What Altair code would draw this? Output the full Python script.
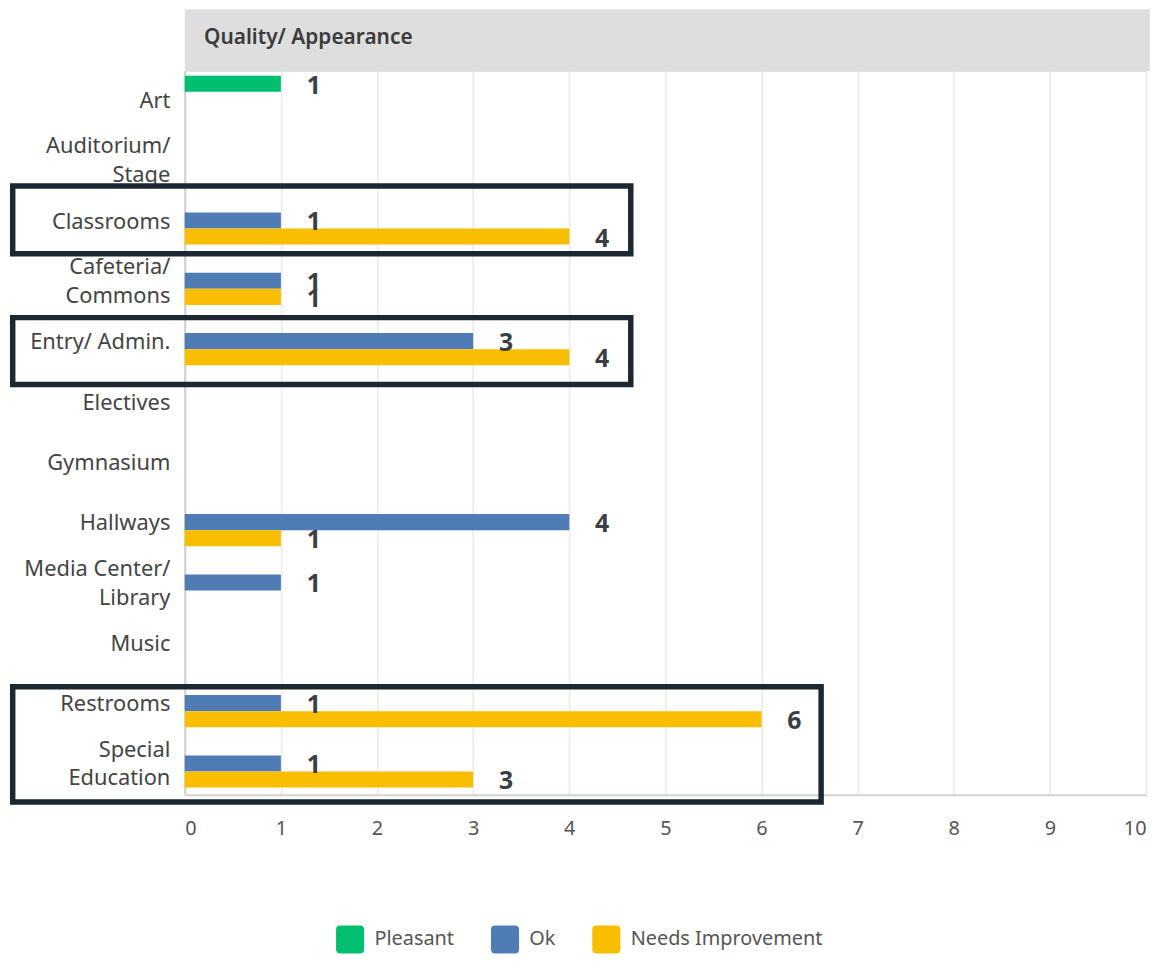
import altair as alt
import pandas as pd

# ---- data ----
categories = ["Art", "Auditorium/|Stage", "Classrooms", "Cafeteria/|Commons",
              "Entry/ Admin.", "Electives", "Gymnasium", "Hallways",
              "Media Center/|Library", "Music", "Restrooms", "Special|Education"]
series = ["Pleasant", "Ok", "Needs Improvement"]
series_colors = ["#00bf6f", "#507cb6", "#f9be00"]
pleasant = [1, 0, 0, 0, 0, 0, 0, 0, 0, 0, 0, 0]
ok = [0, 0, 1, 1, 3, 0, 0, 4, 1, 0, 1, 1]
needs_improvement = [0, 0, 4, 1, 4, 0, 0, 1, 0, 0, 6, 3]
x_ticks = [0, 1, 2, 3, 4, 5, 6, 7, 8, 9, 10]
header_title = "Quality/ Appearance"

# highlight boxes (annotation, in data units: x in counts, y in row index)
box_left = [-1.79, -1.79, -1.79]
box_right = [4.64, 4.64, 6.62]
box_top = [1.91, 4.09, 10.21]
box_bottom = [3.03, 5.20, 12.12]

rows = []
for s, vals in zip(series, [pleasant, ok, needs_improvement]):
    for c, v in zip(categories, vals):
        if v > 0:
            rows.append({"category": c, "series": s, "value": v})
df = pd.DataFrame(rows)

boxes = pd.DataFrame({"x1": box_left, "x2": box_right, "y1": box_top, "y2": box_bottom})
header = pd.DataFrame({"x1": [0], "x2": [10.04], "y1": [-1.02], "y2": [0], "tx": [0.2], "ty": [-0.54],
                       "label": [header_title]})

FONT = "Noto Sans"
ROUNDED_SQUARE = ("M-0.7,-1L0.7,-1Q1,-1,1,-0.7L1,0.7Q1,1,0.7,1L-0.7,1"
                  "Q-1,1,-1,0.7L-1,-0.7Q-1,-1,-0.7,-1Z")

y_enc = alt.Y("category:N", sort=categories,
              scale=alt.Scale(domain=categories, paddingInner=0, paddingOuter=0),
              axis=alt.Axis(title=None, labelExpr="split(datum.label, '|')",
                            labelFontSize=22, labelColor="#444", labelFont=FONT,
                            labelPadding=15, labelLineHeight=29, ticks=False,
                            labelOffset=alt.ExprRef("indexof(datum.value, '|') >= 0 ? -15 : 0"),
                            domain=True, domainColor="#cfcfcf", domainWidth=2,
                            labelAlign="right", labelLimit=300))
yoff_enc = alt.YOffset("series:N", sort=series,
                       scale=alt.Scale(domain=series, paddingInner=0, paddingOuter=0.375, align=0.4))
x_scale = alt.Scale(domain=[0, 10], nice=False)

bars = alt.Chart(df).mark_bar().encode(
    x=alt.X("value:Q", scale=x_scale,
            axis=alt.Axis(title=None, values=x_ticks, format="d", grid=True, gridColor="#e9e9e9",
                          gridWidth=1.5, ticks=False, labelFontSize=20, labelColor="#555",
                          labelFont=FONT, labelPadding=24, labelFlush=True, domain=True,
                          domainColor="#d4d4d4", domainWidth=2)),
    y=y_enc,
    yOffset=yoff_enc,
    color=alt.Color("series:N", sort=series,
                    scale=alt.Scale(domain=series, range=series_colors),
                    legend=alt.Legend(title=None, orient="none", legendX=152, legendY=860,
                                      direction="horizontal", symbolType=ROUNDED_SQUARE,
                                      symbolSize=800, symbolStrokeWidth=0, symbolOpacity=1,
                                      labelFontSize=20, labelColor="#555", labelFont=FONT,
                                      labelLimit=400, labelOffset=10, columnPadding=36,
                                      padding=0)),
)

labels = alt.Chart(df).mark_text(align="left", baseline="middle", dx=26, dy=2,
                                 fontSize=25, fontWeight="bold", color="#3a3f45", font=FONT).encode(
    x=alt.X("value:Q", scale=x_scale),
    y=alt.Y("category:N", sort=categories, scale=alt.Scale(domain=categories)),
    yOffset=yoff_enc,
    text="value:Q",
)

y_lin = alt.Scale(domain=[0, 12], nice=False, zero=False, reverse=True)

header_rect = alt.Chart(header).mark_rect(color="#dedede").encode(
    x=alt.X("x1:Q", scale=x_scale), x2="x2:Q",
    y=alt.Y("y1:Q", scale=y_lin, axis=None), y2="y2:Q",
)
header_text = alt.Chart(header).mark_text(align="left", baseline="middle", fontSize=21,
                                          fontWeight=600, color="#3b3b3b", font=FONT).encode(
    x=alt.X("tx:Q", scale=x_scale),
    y=alt.Y("ty:Q", scale=y_lin, axis=None),
    text="label:N",
)
box_marks = alt.Chart(boxes).mark_rect(fill=None, fillOpacity=0, stroke="#1c2731", strokeWidth=5.5).encode(
    x=alt.X("x1:Q", scale=x_scale), x2="x2:Q",
    y=alt.Y("y1:Q", scale=y_lin, axis=None), y2="y2:Q",
)

overlay = alt.layer(header_rect, header_text, box_marks)
base = alt.layer(bars, labels)

chart = alt.layer(base, overlay).resolve_scale(y="independent").properties(
    width=968, height=729,
    autosize=alt.AutoSizeParams(type="none"),
    padding={"left": 178, "top": 60, "right": 4, "bottom": 158},
).configure_view(stroke=None).configure(background="white")

chart.save("out.html", embed_options={"renderer": "svg", "actions": False})
